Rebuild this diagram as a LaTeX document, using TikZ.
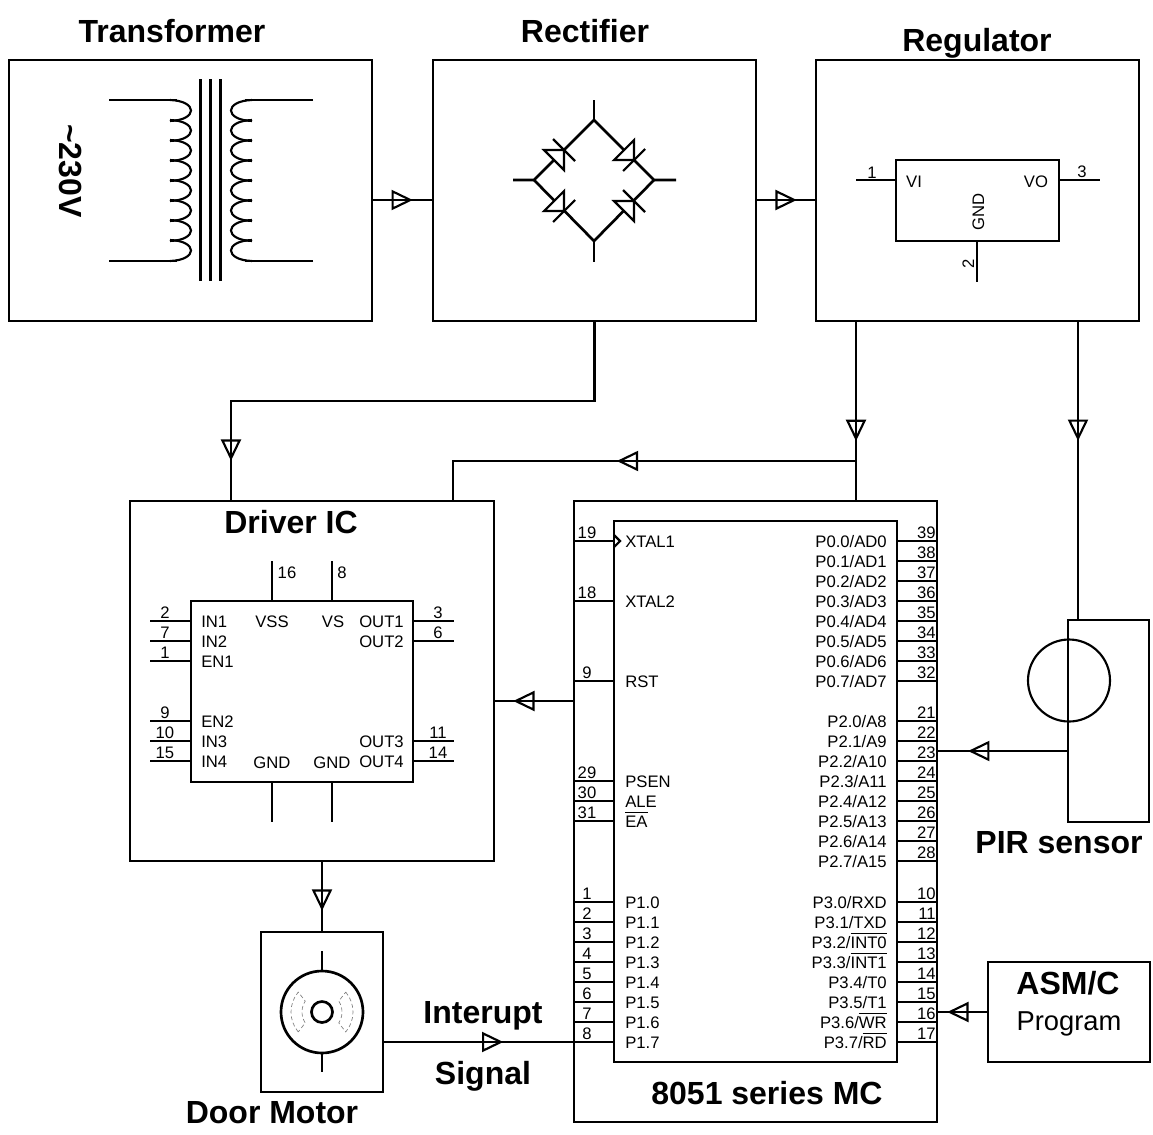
\documentclass[tikz,border=0pt]{standalone}
\usepackage{fontspec}
\setmainfont{Liberation Sans}
\usetikzlibrary{arrows.meta,decorations.markings}
\newcommand{\ovl}[1]{$\overline{\mbox{\rule{0pt}{10pt}#1}}$}
\tikzset{
  blk/.style 2 args={draw=black,line width=2pt,inner sep=0pt,outer sep=0pt,minimum width=#1*0.75pt,minimum height=#2*0.75pt},
  ln/.style={line width=2pt,black},
  wr/.style={line width=1.6pt,black},
  flow/.style={line width=2pt,decoration={markings,mark=at position #1 with {\arrow{Triangle[open,length=16pt,width=15pt,line width=1.6pt]}}},postaction={decorate}},
  ttl/.style={font=\fontsize{24}{26}\selectfont\bfseries,inner sep=0pt},
  lbl/.style={font=\fontsize{12.5}{14}\selectfont,inner sep=0pt,text height=9pt,text depth=0pt},
  lleft/.style={lbl,anchor=west},
  lright/.style={lbl,anchor=east},
  brush/.style={gray,line width=0.5pt,densely dashed}
}
\begin{document}
\begin{tikzpicture}[x=0.75pt,y=-0.75pt]
\useasboundingbox (0,0) rectangle (1153,1135);
\node[blk={363}{261}] (tr) at (190.5,190.5) {};
\node[blk={323}{261}] (re) at (594.5,190.5) {};
\node[blk={323}{261}] (rg) at (977.5,190.5) {};
\node[blk={364}{360}] (dr) at (312,681) {};
\node[blk={363}{621}] (mc) at (755.5,811.5) {};
\node[blk={122}{160}] (mot) at (322,1012) {};
\node[blk={81}{202}] (pir) at (1108.5,721) {};
\node[blk={162}{100}] (prog) at (1069,1012) {};
\node[ttl] (trt) at (172,31) {Transformer};
\node[ttl] (ret) at (585,31) {Rectifier};
\node[ttl] (rgt) at (977,43) {Regulator};
\node[ttl] (drt) at (291,522) {Driver IC};
\node[ttl] (mct) at (767,1093) {8051 series MC};
\node[ttl] (mott) at (272,1113) {Door Motor};
\node[ttl] (pirt) at (1059,843) {PIR sensor};
\node[ttl] (asm) at (1068,983) {ASM/C};
\node[inner sep=0pt,font=\fontsize{20.5}{22}\selectfont] (prg) at (1069,1024) {Program};
\node[ttl] (int) at (483,1016) {Interupt};
\node[ttl] (sig) at (483,1076) {Signal};
\node[ttl,rotate=-90] (vac) at (70,171) {\char"007E 230V};
\draw[flow=0.67] (tr.east |- 0,200) -- (re.west |- 0,200);
\draw[flow=0.68] (re.east |- 0,200) -- (rg.west |- 0,200);
\draw[flow=0.926] (re.south) |- (231,401) -- (231,0 |- dr.north);
\draw[flow=0.667] (856,0 |- rg.south) -- (856,0 |- mc.north);
\draw[flow=0.401] (1078,0 |- rg.south) -- (1078,0 |- pir.north);
\coordinate (tap) at (856,461);
\draw[flow=0.54] (tap) -- (453,461) -- (453,0 |- dr.north);
\draw[flow=0.76] (mc.west |- 0,701) -- (dr.east |- 0,701);
\draw[flow=0.70] (mot.north |- dr.south) -- (mot.north);
\draw[flow=0.63] (mot.east |- 0,1042) -- (mc.west |- 0,1042);
\draw[flow=0.763] (pir.west |- 0,751) -- (mc.east |- 0,751);
\draw[flow=0.80] (prog.west) -- (mc.east |- prog.west);
\foreach \x in {200.7,210.7,220.7} \draw[ln] (\x,79) -- (\x,281);
\draw[ln] (109,100) -- (177,100) (109,261) -- (177,261);
\draw[ln] (313,100) -- (245,100) (313,261) -- (245,261);
\foreach \y in {100,120,140,160,180,200,220,240} {
  \draw[wr] (170,\y) .. controls (198,\y+1) and (198,\y+20) .. (170,\y+21);
  \draw[wr] (252,\y) .. controls (224,\y+1) and (224,\y+20) .. (252,\y+21);
}
\draw[ln] (513,180) -- (534,180) -- (594,120) -- (654,180) -- (676,180);
\draw[ln] (534,180) -- (594,241) -- (654,180);
\draw[ln] (594,100) -- (594,120) (594,241) -- (594,262);
\foreach \ax/\ay/\dx/\dy in {564/150/1/-1,634/160/1/1,564/211/1/1,634/201/1/-1} {
  \draw[wr,fill=white] (\ax,\ay) -- ({\ax-10*\dx-10*\dy},{\ay-10*\dy+10*\dx}) -- ({\ax-10*\dx+10*\dy},{\ay-10*\dy-10*\dx}) -- cycle;
  \draw[wr] ({\ax-11*\dy},{\ay+11*\dx}) -- ({\ax+11*\dy},{\ay-11*\dx});
}
\node[blk={163}{81}] (vr) at (977.5,200.5) {};
\draw[ln] (856,180) -- (vr.west |- 0,180) (vr.east |- 0,180) -- (1100,180) (977,241) -- (977,282);
\node[lbl] (vr1) at (872,172) {1};
\node[lbl] (vr3) at (1082,171) {3};
\node[lbl,rotate=90] (vr2) at (968,264) {2};
\node[lbl] (vri) at (914,181) {VI};
\node[lbl] (vro) at (1036,181) {VO};
\node[lbl,rotate=90] (vrg) at (978,212) {GND};
\node[blk={222}{181}] (ic) at (302,691.5) {};
\draw[ln] (272,561) -- (272,601) (332,561) -- (332,601) (272,782) -- (272,822) (332,782) -- (332,822);
\node[lbl] (ic16) at (287,572) {16};
\node[lbl] (ic8) at (342,572) {8};
\node[lbl] (vss) at (272,621) {VSS};
\node[lbl] (vs) at (333,621) {VS};
\node[lbl] (gnda) at (272,762) {GND};
\node[lbl] (gndb) at (332,762) {GND};
\foreach \n/\t/\y in {2/IN1/621,7/IN2/641,1/EN1/661,9/EN2/721,10/IN3/741,15/IN4/761} {
  \draw[ln] (150,\y) -- (191,\y);
  \node[lbl] (icn\n) at (165,\y-9) {\n};
  \node[lleft] (ict\n) at (201,\y) {\t};
}
\foreach \n/\t/\y in {3/OUT1/621,6/OUT2/641,11/OUT3/741,14/OUT4/761} {
  \draw[ln] (413,\y) -- (454,\y);
  \node[lbl] (icn\n) at (438,\y-9) {\n};
  \node[lleft] (ict\n) at (359,\y) {\t};
}
\node[blk={283}{541}] (uc) at (755.5,791.5) {};
\draw[wr] (614,535) -- (620,541) -- (614,547);
\foreach \n/\t/\y in {19/XTAL1/541,18/XTAL2/601,9/RST/681,29/PSEN/781,30/ALE/801,31/{\ovl{EA}}/821,1/P1.0/902,2/P1.1/922,3/P1.2/942,4/P1.3/962,5/P1.4/982,6/P1.5/1002,7/P1.6/1022,8/P1.7/1042} {
  \draw[ln] (574,\y) -- (614,\y);
  \node[lbl] (ucl\n) at (587,\y-9) {\n};
  \node[lleft] (ucm\n) at (625,\y) {\t};
}
\foreach \n/\t/\y in {39/{P0.0/AD0}/541,38/{P0.1/AD1}/561,37/{P0.2/AD2}/581,36/{P0.3/AD3}/601,35/{P0.4/AD4}/621,34/{P0.5/AD5}/641,33/{P0.6/AD6}/661,32/{P0.7/AD7}/681,21/{P2.0/A8}/721,22/{P2.1/A9}/741,23/{P2.2/A10}/761,24/{P2.3/A11}/781,25/{P2.4/A12}/801,26/{P2.5/A13}/821,27/{P2.6/A14}/841,28/{P2.7/A15}/861,10/{P3.0/RXD}/902,11/{P3.1/TXD}/922,12/{P3.2/\ovl{INT0}}/942,13/{P3.3/\ovl{INT1}}/962,14/{P3.4/T0}/982,15/{P3.5/T1}/1002,16/{P3.6/\ovl{WR}}/1022,17/{P3.7/\ovl{RD}}/1042} {
  \draw[ln] (897,\y) -- (937,\y);
  \node[lright] (ucr\n) at (936,\y-9) {\n};
  \node[lright] (ucs\n) at (887,\y) {\t};
}
\draw[ln] (322,951) -- (322,972) (322,1052) -- (322,1072);
\draw[ln] (322,1012) circle (41);
\draw[ln] (322,1012) circle (10.5);
\foreach \s in {0,180}
  \draw[brush,shift={(322,1012)}] (\s-40:31) arc (\s-40:\s+40:31) -- (\s+33:20) arc (\s+33:\s-33:20) -- cycle;
\draw[wr] (1069,680.5) circle (41);
\end{tikzpicture}
\end{document}
